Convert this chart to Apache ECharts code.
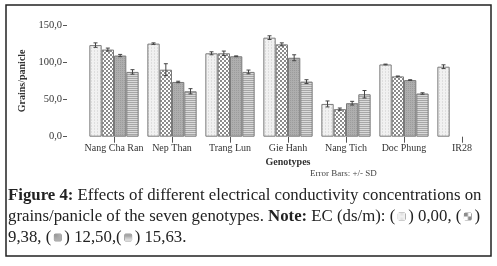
<!DOCTYPE html>
<html>
<head>
<meta charset="utf-8">
<script src="https://cdn.jsdelivr.net/npm/echarts@6/dist/echarts.min.js"></script>
<style>
html,body{margin:0;padding:0;background:#fff;}
#c{width:497px;height:266px;}
</style>
</head>
<body>
<div id="c"></div>
<script>
const categories = ['Nang Cha Ran', 'Nep Than', 'Trang Lun', 'Gie Hanh', 'Nang Tich', 'Doc Phung', 'IR28'];
const seriesNames = ['0,00', '9,38', '12,50', '15,63'];
const ec000 = [123, 125, 112, 133, 44, 97, 94];
const ec938 = [117, 90, 112, 124, 37, 81, null];
const ec1250 = [109, 73.5, 108, 106, 45, 76, null];
const ec1563 = [87, 61, 87, 74, 57, 58, null];
const sd000 = [3, 1, 2, 2.5, 4, 0.5, 2.5];
const sd938 = [2, 8, 3, 2, 1.5, 0.5, null];
const sd1250 = [1.5, 1, 0.5, 4, 2.5, 0.5, null];
const sd1563 = [3, 3.5, 2.5, 2.5, 5, 1, null];
const yTickLabels = {0: '0,0', 50: '50,0', 100: '100,0', 150: '150,0'};

const values = [ec000, ec938, ec1250, ec1563];
const sds = [sd000, sd938, sd1250, sd1563];

function makePattern(w, h, draw) {
  const c = document.createElement('canvas');
  c.width = w; c.height = h;
  const ctx = c.getContext('2d');
  draw(ctx);
  return c;
}
const pat1 = makePattern(3, 3, ctx => {
  ctx.fillStyle = '#f1f1f1'; ctx.fillRect(0, 0, 3, 3);
  ctx.fillStyle = '#dedede'; ctx.fillRect(1, 0, 1, 1); ctx.fillRect(1, 2, 1, 1);
});
const pat2 = makePattern(4, 4, ctx => {
  ctx.fillStyle = '#ffffff'; ctx.fillRect(0, 0, 4, 4);
  ctx.fillStyle = '#8c8c8c'; ctx.fillRect(0, 0, 2, 2); ctx.fillRect(2, 2, 2, 2);
});
const pat3 = makePattern(2, 2, ctx => {
  ctx.fillStyle = '#aeaeae'; ctx.fillRect(0, 0, 2, 2);
  ctx.fillStyle = '#9c9c9c'; ctx.fillRect(0, 0, 1, 1);
});
const pat4 = makePattern(2, 2, ctx => {
  ctx.fillStyle = '#dadada'; ctx.fillRect(0, 0, 2, 2);
  ctx.fillStyle = '#a6a6a6'; ctx.fillRect(0, 0, 2, 1);
});
const pats = [pat1, pat2, pat3, pat4];
const CAT_GAP = 0.15;

const barSeries = values.map((arr, i) => ({
  type: 'bar',
  name: seriesNames[i],
  data: arr,
  barGap: '0%',
  barCategoryGap: (CAT_GAP * 100) + '%',
  itemStyle: {color: {image: pats[i], repeat: 'repeat'}, borderColor: '#7a7a7a', borderWidth: 1},
  emphasis: {disabled: true},
  animation: false
}));

const errData = [];
sds.forEach((arr, s) => {
  arr.forEach((e, k) => {
    if (e != null && values[s][k] != null) errData.push([k, values[s][k], e, s]);
  });
});

const errSeries = {
  type: 'custom',
  data: errData,
  z: 10,
  animation: false,
  renderItem: function (params, api) {
    const xi = api.value(0), v = api.value(1), e = api.value(2), s = api.value(3);
    const band = api.size([1, 0])[0];
    const groupW = band * (1 - CAT_GAP);
    const bw = groupW / 4;
    const cx = api.coord([xi, v])[0] - groupW / 2 + bw * (s + 0.5);
    const yt = api.coord([xi, v + e])[1];
    const yb = api.coord([xi, v - e])[1];
    const hw = 2;
    const st = {stroke: '#444', lineWidth: 1};
    return {
      type: 'group',
      children: [
        {type: 'line', shape: {x1: cx, y1: yt, x2: cx, y2: yb}, style: st},
        {type: 'line', shape: {x1: cx - hw, y1: yt, x2: cx + hw, y2: yt}, style: st},
        {type: 'line', shape: {x1: cx - hw, y1: yb, x2: cx + hw, y2: yb}, style: st}
      ]
    };
  }
};

const serif = '"Liberation Serif", "Times New Roman", serif';
const capFont = 16.8;
const sq = (i) => ({
  width: 7, height: 7,
  backgroundColor: {image: pats[i], repeat: 'repeat'},
  borderColor: '#999', borderWidth: 1, borderRadius: 1
});
const capRich = {
  b: {fontWeight: 'bold', fontFamily: serif, fontSize: capFont, fill: '#222', color: '#222'},
  g: {width: 3, fontSize: capFont},
  s0: sq(0), s1: sq(1), s2: sq(2), s3: sq(3)
};
function capLine(text, y) {
  return {
    type: 'text', left: 8, top: y,
    style: {text: text, font: capFont + 'px ' + serif, fill: '#222', rich: capRich}
  };
}

const chart = echarts.init(document.getElementById('c'), null, {renderer: 'canvas'});
chart.setOption({
  backgroundColor: '#fff',
  animation: false,
  grid: {left: 85, right: 6, top: 25, bottom: 129.3},
  xAxis: {
    type: 'category',
    data: categories,
    axisLine: {show: false},
    axisTick: {show: true, alignWithLabel: true, length: 6, lineStyle: {color: '#555'}},
    axisLabel: {interval: 0, fontFamily: serif, fontSize: 10, color: '#333', margin: 7},
    name: 'Genotypes',
    nameLocation: 'middle',
    nameGap: 21,
    nameTextStyle: {fontFamily: serif, fontSize: 10, fontWeight: 'bold', color: '#333'}
  },
  yAxis: {
    type: 'value',
    min: 0, max: 150, interval: 50,
    offset: 18,
    splitLine: {show: false},
    axisLine: {show: false},
    axisTick: {show: true, length: 4, lineStyle: {color: '#555'}},
    axisLabel: {fontFamily: serif, fontSize: 10.5, color: '#333', margin: 5,
      formatter: v => yTickLabels[v] !== undefined ? yTickLabels[v] : ''},
    name: 'Grains/panicle',
    nameLocation: 'middle',
    nameGap: 35,
    nameTextStyle: {fontFamily: serif, fontSize: 10, fontWeight: 'bold', color: '#333'}
  },
  series: barSeries.concat([errSeries]),
  graphic: [
    {type: 'rect', shape: {x: 6, y: 5, width: 485, height: 251},
      style: {fill: 'none', stroke: '#222', lineWidth: 1.5}, silent: true},
    {type: 'text', left: 310, top: 169,
      style: {text: 'Error Bars: +/- SD', font: '9px ' + serif, fill: '#444'}},
    capLine('{b|Figure 4:} Effects of different electrical conductivity concentrations on', 187),
    capLine('grains/panicle of the seven genotypes. {b|Note:} EC (ds/m): ({g| }{s0| }{g| }) 0,00, ({g| }{s1| }{g| })', 208),
    capLine('9,38, ({g| }{s2| }{g| }) 12,50,({g| }{s3| }{g| }) 15,63.', 229)
  ]
});
</script>
</body>
</html>
